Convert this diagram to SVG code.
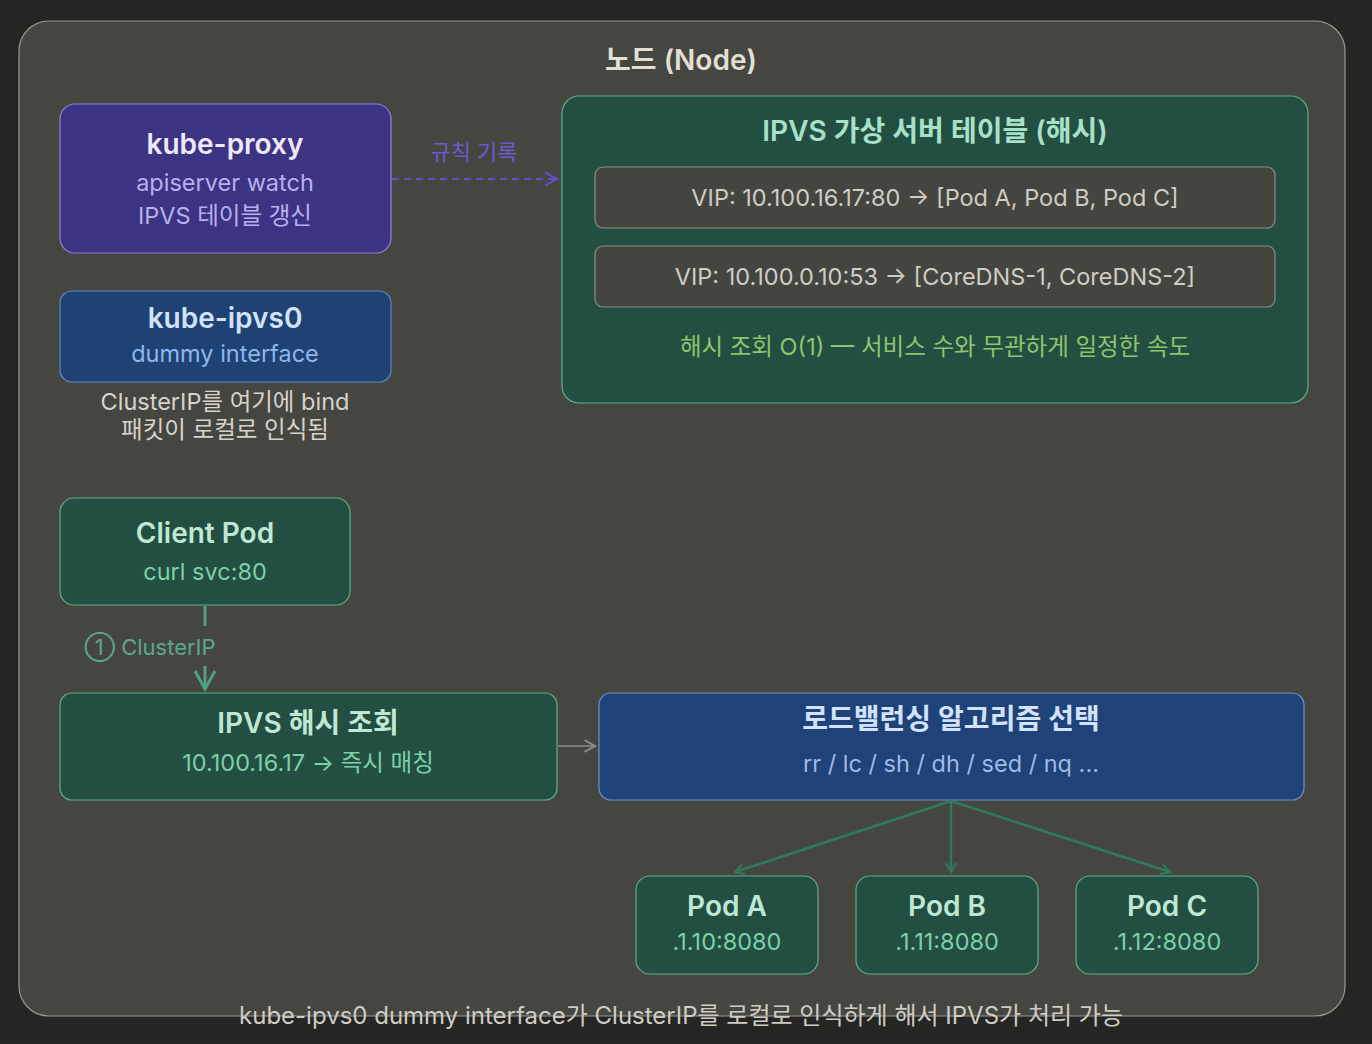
<svg xmlns="http://www.w3.org/2000/svg" width="1372" height="1044" viewBox="0 0 1372 1044">
<defs>
<style>
text{font-family:Inter,"Noto Sans CJK KR",sans-serif;text-anchor:middle;letter-spacing:0px}
.t{font-size:28px;font-weight:600}
.s{font-size:23.5px}
.g{fill:#234f42;stroke:#5fae8c;stroke-width:1.2}
.gt{fill:#bfe8d4}
.gs{fill:#7dd0a8}
.e{fill:#454540;stroke:#8e8c86;stroke-width:1.2}
.et{fill:#cfccc4;font-size:23.5px}
</style>
<marker id="ag" viewBox="0 0 12 12" refX="10" refY="6" markerWidth="12" markerHeight="12" markerUnits="userSpaceOnUse" orient="auto"><path d="M1,1 L10,6 L1,11" fill="none" stroke="#2f7a5c" stroke-width="2"/></marker>
<marker id="ag2" viewBox="0 0 12 12" refX="10" refY="6" markerWidth="24" markerHeight="24" markerUnits="userSpaceOnUse" orient="auto"><path d="M1,1 L10,6 L1,11" fill="none" stroke="#4fa07e" stroke-width="1.5"/></marker>
<marker id="ay" viewBox="0 0 12 12" refX="10" refY="6" markerWidth="14" markerHeight="14" markerUnits="userSpaceOnUse" orient="auto"><path d="M1,1 L10,6 L1,11" fill="none" stroke="#8e8c86" stroke-width="1.6"/></marker>
<marker id="ap" viewBox="0 0 12 12" refX="10" refY="6" markerWidth="16" markerHeight="16" markerUnits="userSpaceOnUse" orient="auto"><path d="M1,1 L10,6 L1,11" fill="none" stroke="#6050c8" stroke-width="1.6"/></marker>
</defs>
<rect width="1372" height="1044" fill="#252523"/>
<g id="node-container">
<rect x="19" y="21" width="1326" height="995" rx="30" fill="#464641" stroke="#9a9892" stroke-width="1.2"/>
<text x="681" y="70" style="font-size:28px;font-weight:600" fill="#e2dfd4">노드 (Node)</text>
</g>
<g id="kube-proxy">
<rect x="60" y="104" width="331" height="149" rx="15" fill="#3d3383" stroke="#8d82da" stroke-width="1.2"/>
<text class="t" x="225" y="154" fill="#ece9fa">kube-proxy</text>
<text class="s" x="225" y="191" fill="#b8b0ee">apiserver watch</text>
<text class="s" x="225" y="224" fill="#b8b0ee">IPVS 테이블 갱신</text>
</g>
<g id="kube-ipvs0">
<rect x="60" y="291" width="331" height="91" rx="12" fill="#1f4275" stroke="#5f86bd" stroke-width="1.2"/>
<text class="t" x="225" y="328" fill="#d2e2f8">kube-ipvs0</text>
<text class="s" x="225" y="362" fill="#90b6ea">dummy interface</text>
<text class="s" x="225" y="410" fill="#d6d3ca">ClusterIP를 여기에 bind</text>
<text class="s" x="225" y="438" fill="#d6d3ca">패킷이 로컬로 인식됨</text>
</g>
<g id="ipvs-table">
<rect x="562" y="96" width="746" height="307" rx="17" fill="#234f42" stroke="#5fae8c" stroke-width="1.2"/>
<text class="t" x="935" y="141" fill="#a9e0c9">IPVS 가상 서버 테이블 (해시)</text>
<rect class="e" x="595" y="167" width="680" height="61" rx="8"/>
<text class="et" x="935" y="206">VIP: 10.100.16.17:80 → [Pod A, Pod B, Pod C]</text>
<rect class="e" x="595" y="246" width="680" height="61" rx="8"/>
<text class="et" x="935" y="285">VIP: 10.100.0.10:53 → [CoreDNS-1, CoreDNS-2]</text>
<text x="935" y="355" style="font-size:23.5px" fill="#8fc46c">해시 조회 O(1) — 서비스 수와 무관하게 일정한 속도</text>
</g>
<g id="client-pod">
<rect class="g" x="60" y="498" width="290" height="107" rx="14"/>
<text class="t gt" x="205" y="543">Client Pod</text>
<text class="s gs" x="205" y="580">curl svc:80</text>
</g>
<g id="ipvs-lookup">
<rect class="g" x="60" y="693" width="497" height="107" rx="12"/>
<text class="t gt" x="308" y="733">IPVS 해시 조회</text>
<text class="s gs" x="308" y="771">10.100.16.17 → 즉시 매칭</text>
</g>
<g id="lb-select">
<rect x="599" y="693" width="705" height="107" rx="12" fill="#1f4278" stroke="#6c90c8" stroke-width="1.2"/>
<text class="t" x="951" y="729" fill="#d2e2f8">로드밸런싱 알고리즘 선택</text>
<text class="s" x="951" y="772" fill="#9cbae9">rr / lc / sh / dh / sed / nq ...</text>
</g>
<g id="pod-a">
<rect class="g" x="636" y="876" width="182" height="98" rx="14"/>
<text class="t gt" x="727" y="916">Pod A</text>
<text class="s gs" x="727" y="950">.1.10:8080</text>
</g>
<g id="pod-b">
<rect class="g" x="856" y="876" width="182" height="98" rx="14"/>
<text class="t gt" x="947" y="916">Pod B</text>
<text class="s gs" x="947" y="950">.1.11:8080</text>
</g>
<g id="pod-c">
<rect class="g" x="1076" y="876" width="182" height="98" rx="14"/>
<text class="t gt" x="1167" y="916">Pod C</text>
<text class="s gs" x="1167" y="950">.1.12:8080</text>
</g>
<g id="connectors" fill="none">
<line x1="392" y1="179" x2="557" y2="179" stroke="#6050c8" stroke-width="2" stroke-dasharray="7,5" marker-end="url(#ap)"/>
<text x="474" y="160" style="font-size:22px" fill="#6a5acf" stroke="none">규칙 기록</text>
<line x1="205" y1="606" x2="205" y2="626" stroke="#4fa07e" stroke-width="3"/>
<line x1="205" y1="666" x2="205" y2="689" stroke="#4fa07e" stroke-width="3" marker-end="url(#ag2)"/>
<text x="150" y="655" style="font-size:22px" fill="#5aa888" stroke="none">① ClusterIP</text>
<line x1="558" y1="746" x2="595" y2="746" stroke="#8e8c86" stroke-width="1.6" marker-end="url(#ay)"/>
<line x1="951" y1="801" x2="735" y2="872" stroke="#2f7a5c" stroke-width="2.5" marker-end="url(#ag)"/>
<line x1="951" y1="801" x2="951" y2="872" stroke="#2f7a5c" stroke-width="2.5" marker-end="url(#ag)"/>
<line x1="951" y1="801" x2="1170" y2="872" stroke="#2f7a5c" stroke-width="2.5" marker-end="url(#ag)"/>
</g>
<text x="681" y="1024" style="font-size:24px" fill="#cfccc4">kube-ipvs0 dummy interface가 ClusterIP를 로컬로 인식하게 해서 IPVS가 처리 가능</text>
</svg>
